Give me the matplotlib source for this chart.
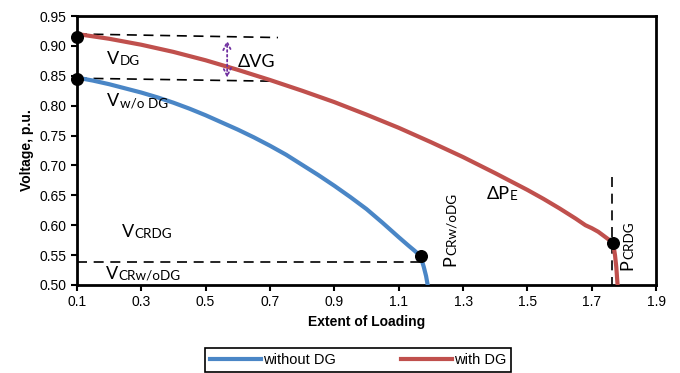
import matplotlib.pyplot as plt

# data
load_wo_dg = [0.10, 0.15, 0.20, 0.25, 0.30, 0.35, 0.40, 0.45, 0.50, 0.55, 0.60, 0.65, 0.70,
              0.75, 0.80, 0.85, 0.90, 0.95, 1.00, 1.05, 1.10, 1.13, 1.15, 1.168, 1.178, 1.185, 1.19]
volt_wo_dg = [0.847, 0.842, 0.836, 0.829, 0.822, 0.814, 0.805, 0.795, 0.784, 0.772, 0.760, 0.747, 0.733,
              0.718, 0.701, 0.684, 0.666, 0.647, 0.627, 0.604, 0.580, 0.566, 0.557, 0.548, 0.530, 0.515, 0.500]

load_dg = [0.10, 0.20, 0.30, 0.40, 0.50, 0.60, 0.70, 0.80, 0.90, 1.00, 1.10, 1.20, 1.30, 1.40,
           1.50, 1.55, 1.60, 1.65, 1.68, 1.70, 1.72, 1.74, 1.755, 1.766, 1.772, 1.776, 1.78]
volt_dg = [0.920, 0.912, 0.902, 0.890, 0.876, 0.860, 0.843, 0.825, 0.806, 0.785, 0.763, 0.739, 0.714, 0.687,
           0.659, 0.644, 0.628, 0.611, 0.600, 0.595, 0.589, 0.581, 0.575, 0.570, 0.550, 0.530, 0.500]

crit_pts_x = [0.1, 0.1, 1.168, 1.766]
crit_pts_y = [0.915, 0.845, 0.548, 0.570]

x_ticks = [0.1, 0.3, 0.5, 0.7, 0.9, 1.1, 1.3, 1.5, 1.7, 1.9]
y_ticks = [0.50, 0.55, 0.60, 0.65, 0.70, 0.75, 0.80, 0.85, 0.90, 0.95]

LABEL_FONT = ["Lato", "DejaVu Sans"]
TICK_FONT = ["Liberation Sans", "DejaVu Sans"]


def sub_label(ax, x, y, main, suffix, size=13, rotation=0):
    # big letter followed by a smaller suffix on the same baseline
    t = ax.text(x, y, main, fontsize=size, family=LABEL_FONT,
                rotation=rotation, ha="left", va="bottom")
    if rotation == 0:
        ax.annotate(suffix, xy=(1, 0), xycoords=t, fontsize=size * 0.75,
                    family=LABEL_FONT, ha="left", va="bottom")
    else:
        ax.annotate(suffix, xy=(1, 1), xycoords=t, fontsize=size * 0.75,
                    family=LABEL_FONT, rotation=90, ha="right", va="bottom")


fig = plt.figure(figsize=(6.8, 3.73), dpi=100)
ax = fig.add_axes([0.113, 0.236, 0.852, 0.721])

ax.plot(load_wo_dg, volt_wo_dg, color="#4A86C6", lw=3, label="without DG", zorder=3)
ax.plot(load_dg, volt_dg, color="#C0504D", lw=3, label="with DG", zorder=3)
ax.scatter(crit_pts_x, crit_pts_y, s=70, color="black", zorder=5, clip_on=False)

# guide lines
dash = dict(color="black", lw=1.2, ls=(0, (6, 4)), zorder=2)
ax.plot([0.1, 0.725], [0.920, 0.914], **dash)
ax.plot([0.1, 0.705], [0.846, 0.841], **dash)
ax.plot([0.1, 1.17], [0.539, 0.539], **dash)
ax.plot([1.762, 1.762], [0.68, 0.50], **dash)

ax.annotate("", xy=(0.567, 0.914), xytext=(0.567, 0.842),
            arrowprops=dict(arrowstyle="<->", color="#7030A0", lw=1.3, ls=":",
                            mutation_scale=14))

sub_label(ax, 0.195, 0.864, "V", "DG")
sub_label(ax, 0.195, 0.794, "V", "w/o DG")
sub_label(ax, 0.24, 0.575, "V", "CRDG")
sub_label(ax, 0.19, 0.505, "V", "CRw/oDG")
sub_label(ax, 1.375, 0.638, "ΔP", "E")
sub_label(ax, 1.235, 0.532, "P", "CRw/oDG", rotation=90)
sub_label(ax, 1.785, 0.525, "P", "CRDG", rotation=90)
ax.text(0.6, 0.873, "ΔVG", fontsize=13, family=LABEL_FONT, va="center")

ax.set_xlim(0.1, 1.9)
ax.set_ylim(0.5, 0.95)
ax.set_xticks(x_ticks)
ax.set_yticks(y_ticks)
ax.set_xticklabels([f"{v:.1f}" for v in x_ticks], family=TICK_FONT, fontsize=10)
ax.set_yticklabels([f"{v:.2f}" for v in y_ticks], family=TICK_FONT, fontsize=10)
ax.tick_params(direction="out", length=4, width=1.5, color="black")
for sp in ax.spines.values():
    sp.set_linewidth(2)

ax.set_xlabel("Extent of Loading", family=TICK_FONT, fontsize=10, fontweight="bold", labelpad=4)
ax.set_ylabel("Voltage, p.u.", family=TICK_FONT, fontsize=10, fontweight="bold", labelpad=4)

leg = fig.legend(loc="upper center", bbox_to_anchor=(0.527, 0.068), ncol=2,
                 prop={"family": TICK_FONT, "size": 10.5}, fancybox=False,
                 edgecolor="black", framealpha=1, handlelength=3.5,
                 columnspacing=4.5, borderpad=0.35, handletextpad=0.1,
                 borderaxespad=0)
leg.get_frame().set_linewidth(1.2)

fig.savefig("out.png", dpi=100)
